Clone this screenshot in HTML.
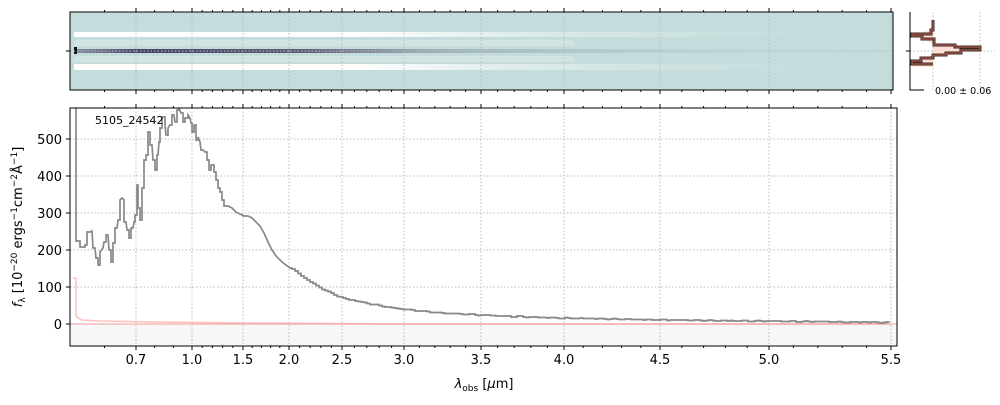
<!DOCTYPE html>
<html><head><meta charset="utf-8"><style>
body{margin:0;background:#fff;width:1000px;height:400px;overflow:hidden;font-family:"Liberation Sans","DejaVu Sans",sans-serif}
</style></head><body>
<svg id="s" width="1000" height="400" xmlns="http://www.w3.org/2000/svg" font-family="DejaVu Sans, Liberation Sans, sans-serif">
<defs><linearGradient id="dk" x1="0" x2="1"><stop offset="0" stop-color="#5a5a78" stop-opacity="0.6"/><stop offset="0.08" stop-color="#3e3c5e" stop-opacity="0.95"/><stop offset="0.28" stop-color="#4a4866" stop-opacity="0.85"/><stop offset="0.45" stop-color="#7a8a98" stop-opacity="0.5"/><stop offset="0.7" stop-color="#a0b8bc" stop-opacity="0.3"/><stop offset="1" stop-color="#c5dcdc" stop-opacity="0"/></linearGradient>
<linearGradient id="wh" x1="0" x2="1"><stop offset="0" stop-color="#fff"/><stop offset="0.35" stop-color="#fff"/><stop offset="0.55" stop-color="#eef5f5" stop-opacity="0.6"/><stop offset="0.8" stop-color="#d8e8e8" stop-opacity="0.3"/><stop offset="1" stop-color="#c5dcdc" stop-opacity="0"/></linearGradient></defs>
<rect x="70" y="12" width="823" height="78" fill="#c5dcdc"/>
<rect x="74" y="32" width="819" height="5" fill="url(#wh)"/>
<rect x="74" y="64" width="819" height="6" fill="url(#wh)"/>
<rect x="74" y="40" width="500" height="6" fill="#dcebea" opacity="0.5"/>
<rect x="74" y="56" width="500" height="6" fill="#dcebea" opacity="0.5"/>
<rect x="74" y="49" width="819" height="4" fill="url(#dk)"/>
<rect x="74" y="47" width="3" height="7" fill="#111"/>
<g id="tg"></g>
<rect x="70" y="12" width="823" height="78" fill="none" stroke="#000" stroke-width="1"/>
<line x1="66" y1="51" x2="70" y2="51" stroke="#000"/>
<rect x="70" y="324" width="827" height="22" fill="#f7f7f7"/>
<g id="mg"></g>
<polyline fill="none" stroke="#ffc0c0" stroke-width="1.5" points="73,278 76,278 76,316 78,318 82,320 100,321 150,322 250,323 400,324 890,324"/>
<line x1="70" y1="324" x2="897" y2="324" stroke="#f08080" stroke-width="1" opacity="0.7"/>
<polyline id="sp" fill="none" stroke="#888" stroke-width="1.7" points=""/>
<rect x="70" y="108" width="827" height="238" fill="none" stroke="#000" stroke-width="1"/>
<text x="95" y="124" font-size="11">5105_24542</text>
<g font-size="13" text-anchor="end" id="yl"></g>
<g font-size="13" text-anchor="middle" id="xl"></g>
<text x="484" y="388" font-size="13" text-anchor="middle"><tspan font-style="italic">λ</tspan><tspan font-size="9" dy="3">obs</tspan><tspan dy="-3"> [</tspan><tspan font-style="italic">μ</tspan>m]</text>
<text transform="translate(22,227) rotate(-90)" font-size="13" text-anchor="middle"><tspan font-style="italic">f</tspan><tspan font-size="9" dy="3">λ</tspan><tspan dy="-3"> [10</tspan><tspan font-size="9" dy="-5">−20</tspan><tspan dy="5"> ergs</tspan><tspan font-size="9" dy="-5">−1</tspan><tspan dy="5">cm</tspan><tspan font-size="9" dy="-5">−2</tspan><tspan dy="5">Å</tspan><tspan font-size="9" dy="-5">−1</tspan><tspan dy="5">]</tspan></text>
<line x1="933" y1="12" x2="933" y2="90" stroke="#bbb" stroke-dasharray="1.5,2"/>
<line x1="980" y1="12" x2="980" y2="90" stroke="#bbb" stroke-dasharray="1.5,2"/>
<line x1="910" y1="51" x2="995" y2="51" stroke="#bbb" stroke-dasharray="1.5,2"/>
<polygon fill="#fcd9d0" opacity="0.8" points="933,20 933,30 912,34 921,38 933,44 980,49 933,55 921,60 912,67 933,67 933,20"/>
<polyline fill="none" stroke="#3a2a26" stroke-width="3" points="933,20 933,30 931,30 931,34 912,34 912,36 922,36 922,39 934,39 934,45 955,45 955,47 980,47 980,50 961,50 961,53 946,53 946,55 933,55 933,58 921,58 921,61 912,61 912,64 933,64"/>
<polyline fill="none" stroke="#c06050" stroke-width="1" points="933,20 933,30 931,30 931,34 912,34 912,36 922,36 922,39 934,39 934,45 955,45 955,47 980,47 980,50 961,50 961,53 946,53 946,55 933,55 933,58 921,58 921,61 912,61 912,64 933,64"/>
<polyline fill="none" stroke="#000" points="910,12 910,90 924,90"/>
<line x1="906" y1="51" x2="910" y2="51" stroke="#000"/>
<text x="935" y="94" font-size="9.5">0.00 ± 0.06</text>
</svg>
<script>
const K=[[0.5,73],[0.7,136],[1.0,192],[1.5,243],[2.0,289],[2.5,342],[3.0,404],[3.5,481],[4.0,564],[4.5,660],[5.0,769],[5.5,891]];
function X(v){for(let i=0;i<K.length-1;i++){if(v<=K[i+1][0]+1e-9){const a=K[i],b=K[i+1];return a[1]+(v-a[0])/(b[0]-a[0])*(b[1]-a[1]);}}return 891;}
const ns="http://www.w3.org/2000/svg";
function L(g,x1,y1,x2,y2,st,da){const l=document.createElementNS(ns,'line');l.setAttribute('x1',x1);l.setAttribute('y1',y1);l.setAttribute('x2',x2);l.setAttribute('y2',y2);l.setAttribute('stroke',st);if(da)l.setAttribute('stroke-dasharray',da);g.appendChild(l);}
function T(g,x,y,t){const e=document.createElementNS(ns,'text');e.setAttribute('x',x);e.setAttribute('y',y);e.textContent=t;g.appendChild(e);}
const tg=document.getElementById('tg'),mg=document.getElementById('mg'),xl=document.getElementById('xl'),yl=document.getElementById('yl');
const maj=[0.7,1.0,1.5,2.0,2.5,3.0,3.5,4.0,4.5,5.0,5.5];
for(let v=0.6;v<=5.51;v+=0.1){const vv=Math.round(v*10)/10;const x=X(vv);const M=maj.some(m=>Math.abs(m-vv)<1e-6);const len=M?4:2;
L(tg,x,12,x,12-len,'#000');L(tg,x,90,x,90+len,'#000');L(mg,x,108,x,108-len,'#000');L(mg,x,346,x,346+len,'#000');
if(M){L(tg,x,12,x,90,'#bbb','1.5,2');L(mg,x,108,x,346,'#bbb','1.5,2');T(xl,x,364,vv.toFixed(1));}}
L(tg,70,51,893,51,'#bbb','1.5,2');
for(let v=0;v<=500;v+=100){const y=324-v*0.37;L(mg,70,y,897,y,'#bbb','1.5,2');L(mg,66,y,70,y,'#000');T(yl,62,y+5,String(v));}
const head="76,108 76,241 80,241 80,247 85,247 85,245 87,245 87,232 90,232 92,231 93,248 95,248 96,258 98,258 98,265 100,265 100,252 103,248 104,242 106,242 106,235 108,235 109,250 111,250 111,262 113,262 113,243 115,243 115,228 117,228 118,220 120,220 120,200 122,198 124,200 124,222 126,222 127,230 129,230 129,238 131,238 131,228 133,228 134,222 135,222 135,215 137,215 137,185 138,185 138,208 140,208 140,220 142,220 142,188 144,188 144,160 146,160 146,155 148,155 148,132 150,132 150,145 152,145 153,160 155,160 155,170 157,170 157,155 158,155 159,142 160,142 160,128 162,128 162,117 165,117 165,125 166,135 168,135 168,128 170,125 172,125 172,115 174,115 175,122 177,122 177,110 179,110 179,108 181,113 183,113 183,122 185,122 185,118 188,118 188,115 190,118 191,123 192,123 192,132 194,132 194,125 196,125 196,140 198,140 198,137 200,142 201,150 203,150 205,152 207,152 207,160 209,160 209,170 211,170 211,165 214,165 214,172 216,172 216,180 218,180 218,188 220,188 220,192 222,192 222,200 224,200 224,206 228,206 232,208 236,212 240,214 244,216 248,216 252,218 256,222 260,226 264,233 268,242 272,250 276,256 282,262 290,268".split(' ').map(p=>p.split(',').map(Number));
const tail=[[290,268],[300,275],[310,282],[320,288],[330,293],[342,298],[360,302],[380,306],[400,309],[440,313],[500,316],[560,318],[640,319.5],[700,320.5],[800,321.5],[890,322.5]];
let pts=head.slice();let yp=268;
for(let x=292;x<=890;x+=3){let i=0;while(i<tail.length-2&&tail[i+1][0]<x)i++;const a=tail[i],b=tail[i+1];let y=a[1]+(x-a[0])/(b[0]-a[0])*(b[1]-a[1]);y+=(Math.sin(x*1.7)+Math.sin(x*0.53))*0.25;y=Math.round(y*2)/2;pts.push([x,yp]);pts.push([x,y]);yp=y;}
document.getElementById('sp').setAttribute('points',pts.map(p=>p.join(',')).join(' '));
</script>
</body></html>
